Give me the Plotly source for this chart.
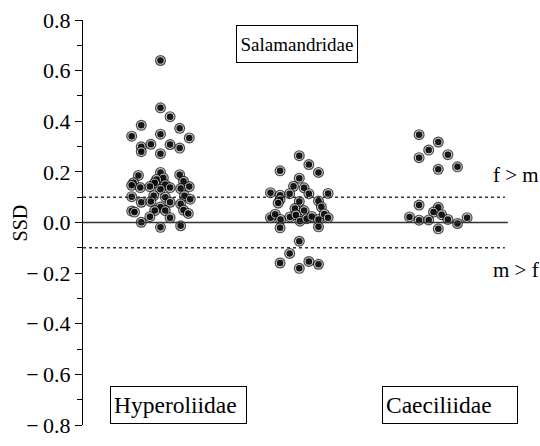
import plotly.graph_objects as go

# ---- data ----
groups = ["Hyperoliidae", "Salamandridae", "Caeciliidae"]
group_pos = [0.0, 14.46, 28.94]   # group centre positions (swarm slot units)

hyp_offset = [0, 0, 1, -2, 2, -3, 0, 3, -2, -2, -1, 1, 2, 0,
              0, 2, -2.3, 0.3, -0.4, -2.8, 2.4, -0.6, 0.5, -3, -2.1, -1.1, 0, 1, 2.1, 3,
              -3, -0.7, 0.5, 2.5, 3.1, -2, -1, 1, 2.1, 0, -3, -2.7, -0.6, 0.5, 2.4, 2.9,
              -1.1, 1, -2, 0, 2.1]
hyp_ssd = [0.64, 0.453, 0.418, 0.384, 0.372, 0.341, 0.349, 0.334, 0.299, 0.280, 0.309, 0.308, 0.294, 0.272,
           0.198, 0.189, 0.186, 0.176, 0.170, 0.157, 0.163, 0.157, 0.150, 0.147, 0.138, 0.142, 0.131, 0.138, 0.134, 0.142,
           0.102, 0.106, 0.100, 0.106, 0.092, 0.080, 0.083, 0.080, 0.074, 0.061, 0.045, 0.041, 0.047, 0.047, 0.049, 0.036,
           0.023, 0.019, 0.001, -0.019, -0.013]

sal_offset = [0, 1, -2, 2, 0, -0.6, 0.5, -3, -2, -1, 1, 3,
              -2, -2.2, 0, 2, 2.3, -0.45, 0.5,
              -3, -2.5, -1.95, -0.97, -0.35, 0.07, 0.77, 1.3, 2, 2.6, 3,
              -2, 2, 0, -1, -2, 0, 1, 2]
sal_ssd = [0.264, 0.229, 0.204, 0.198, 0.175, 0.143, 0.137, 0.118, 0.108, 0.114, 0.114, 0.115,
           0.090, 0.077, 0.083, 0.085, 0.062, 0.055, 0.047,
           0.019, 0.033, 0.012, 0.022, 0.030, 0.005, 0.015, 0.024, 0.012, 0.034, 0.019,
           -0.021, -0.017, -0.074, -0.122, -0.160, -0.181, -0.154, -0.165]

cae_offset = [-2, 0, -1, 1, -2, 2, 0, -2, 0, -0.5, 0.35, -3, -2, -1, 1, 2, 3, 0]
cae_ssd = [0.347, 0.318, 0.286, 0.268, 0.256, 0.220, 0.210, 0.069, 0.060, 0.041, 0.031,
           0.022, 0.009, 0.010, 0.012, -0.004, 0.019, -0.025]

y_ticks = [-0.8, -0.6, -0.4, -0.2, 0.0, 0.2, 0.4, 0.6, 0.8]
y_tick_labels = ["\u2212\u20090.8", "\u2212\u20090.6", "\u2212\u20090.4", "\u2212\u20090.2",
                 "0.0", "0.2", "0.4", "0.6", "0.8"]
threshold = 0.1

# ---- build point lists ----
xs, ys = [], []
for pos, offs, vals in [(group_pos[0], hyp_offset, hyp_ssd),
                        (group_pos[1], sal_offset, sal_ssd),
                        (group_pos[2], cae_offset, cae_ssd)]:
    for o, v in zip(offs, vals):
        xs.append(pos + o)
        ys.append(v)

# interleave a large black disc and a smaller ringed disc per point
px, py, sizes, lw, lc = [], [], [], [], []
for x, y in zip(xs, ys):
    px += [x, x]
    py += [y, y]
    sizes += [11, 7.6]
    lw += [0, 1.1]
    lc += ["black", "white"]

fig = go.Figure()
fig.add_trace(go.Scatter(
    x=px, y=py, mode="markers",
    marker=dict(size=sizes, color="black", line=dict(width=lw, color=lc)),
    cliponaxis=False, hoverinfo="skip", showlegend=False))

W, H = 540, 446
ml, mr, mt, mb = 83, 30, 20, 8
serif = "Liberation Serif, serif"

fig.update_layout(
    width=W, height=H,
    margin=dict(l=ml, r=mr, t=mt, b=mb, pad=0),
    paper_bgcolor="white", plot_bgcolor="white",
    font=dict(family=serif, size=17, color="black"),
    xaxis=dict(visible=False, range=[-8.07, 36.41], fixedrange=True),
    yaxis=dict(range=[-0.8, 0.8], tickvals=y_ticks, ticktext=y_tick_labels,
               showgrid=False, zeroline=False, showline=True, linecolor="black", linewidth=1,
               ticks="outside", ticklen=7, tickwidth=1, tickcolor="black",
               tickfont=dict(family=serif, size=22, color="black"),
               ticklabeloverflow="allow",
               minor=dict(dtick=0.1, ticks="outside", ticklen=5, tickwidth=1, tickcolor="black"),
               fixedrange=True),
)

# reference lines
fig.add_shape(type="line", xref="paper", yref="y", x0=0, x1=0.995, y0=0, y1=0,
              line=dict(color="#333333", width=1.3))
for yv in (threshold, -threshold):
    fig.add_shape(type="line", xref="paper", yref="y", x0=0, x1=0.988, y0=yv, y1=yv,
                  line=dict(color="#333333", width=1.5, dash="dot"))

def px2paper(x, y):
    return (x - ml) / (W - ml - mr), (H - mb - y) / (H - mt - mb)

def box(text, cx, cy, w, size, align="left"):
    x, y = px2paper(cx, cy)
    fig.add_annotation(text=text, x=x, y=y, xref="paper", yref="paper",
                       xanchor="center", yanchor="middle", showarrow=False,
                       width=w, height=30, align=align, borderpad=3,
                       bordercolor="black", borderwidth=1, bgcolor="white",
                       font=dict(family=serif, size=size))

box(groups[1], 297, 45, 114, 19, align="center")
box(groups[0], 178.5, 417.5, 129, 23.5)
box(groups[2], 449.7, 417.5, 128, 23.5)

for txt, yy in (("f > m", 180), ("m > f", 278)):
    x, y = px2paper(491, yy)
    fig.add_annotation(text=txt, x=x, y=y, xref="paper", yref="paper",
                       xanchor="left", yanchor="middle", showarrow=False,
                       font=dict(family=serif, size=21))

x, y = px2paper(20, 230)
fig.add_annotation(text="SSD", x=x, y=y, xref="paper", yref="paper", textangle=-90,
                   xanchor="center", yanchor="middle", showarrow=False,
                   font=dict(family=serif, size=20))

fig.write_html("out.html")
